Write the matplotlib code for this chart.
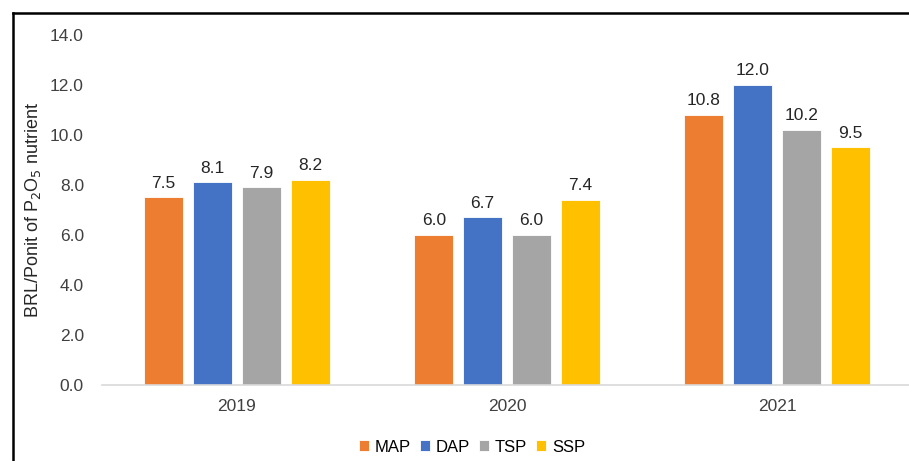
import numpy as np
import matplotlib
matplotlib.use("Agg")
import matplotlib.pyplot as plt
from matplotlib.lines import Line2D

years = ["2019", "2020", "2021"]
products = ["MAP", "DAP", "TSP", "SSP"]
values = {
    "MAP": [7.5, 6.0, 10.8],
    "DAP": [8.1, 6.7, 12.0],
    "TSP": [7.9, 6.0, 10.2],
    "SSP": [8.2, 7.4, 9.5],
}
colors = {"MAP": "#ED7D31", "DAP": "#4472C4", "TSP": "#A5A5A5", "SSP": "#FFC000"}

plt.rcParams["font.family"] = ["Liberation Sans", "DejaVu Sans"]
plt.rcParams["font.size"] = 12

fig = plt.figure(figsize=(9.09, 4.61), dpi=100)
ax = fig.add_axes([0.1122, 0.1649, 0.8911, 0.7592])

x = np.arange(len(years))
step = 0.181
width = 0.144
for i, p in enumerate(products):
    pos = x + (i - 1.5) * step
    bars = ax.bar(pos, values[p], width, color=colors[p], label=p,
                  edgecolor="white", linewidth=0.6)
    ax.bar_label(bars, labels=[f"{v:.1f}" for v in values[p]], padding=5,
                 color="#262626", fontsize=12.5)

ax.set_xlim(-0.5, 2.5)
ax.set_ylim(0, 14)
ax.set_yticks(np.arange(0, 15, 2))
ax.set_yticklabels([f"{v:.1f}" for v in np.arange(0, 15, 2)])
ax.set_xticks(x)
ax.set_xticklabels(years)
ax.tick_params(axis="both", length=0, colors="#404040", labelsize=12.5)
ax.tick_params(axis="y", pad=13)
ax.tick_params(axis="x", pad=10)
for s in ["top", "right", "left"]:
    ax.spines[s].set_visible(False)
ax.spines["bottom"].set_color("#D9D9D9")
ax.spines["bottom"].set_linewidth(1.2)
ax.set_ylabel("BRL/Ponit of P$_2$O$_5$ nutrient", fontsize=13, color="#262626",
              labelpad=5)

fig.legend(loc="center", bbox_to_anchor=(472 / 909, 1 - 447 / 461), ncol=4,
           frameon=False, handlelength=0.6, handleheight=0.6,
           handletextpad=0.35, columnspacing=0.55, fontsize=12)

# outer frame (partly cropped)
fig.add_artist(Line2D([13 / 909, 1.0], [1 - 13 / 461, 1 - 13 / 461],
                      transform=fig.transFigure, color="black", lw=1.8))
fig.add_artist(Line2D([13 / 909, 13 / 909], [0.0, 1 - 13 / 461],
                      transform=fig.transFigure, color="black", lw=1.8))

fig.savefig("out.png", dpi=100)
